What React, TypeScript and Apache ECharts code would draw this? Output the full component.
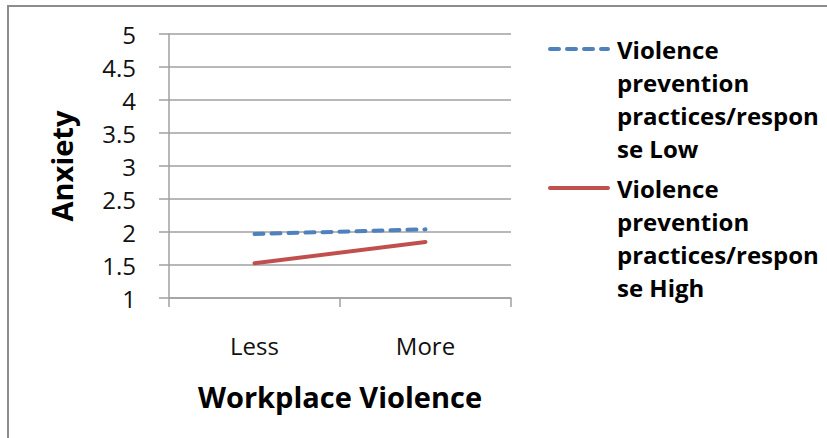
import React, { useEffect, useRef } from "react";
import * as echarts from "echarts";

const categories = ["Less", "More"];
const seriesNames = [
  "Violence\nprevention\npractices/respon\nse Low",
  "Violence\nprevention\npractices/respon\nse High",
];
const lowValues = [1.97, 2.04];
const highValues = [1.525, 1.85];
const yMin = 1;
const yMax = 5;
const yInterval = 0.5;
const xTitle = "Workplace Violence";
const yTitle = "Anxiety";

const FONT = "Open Sans";
const BLUE = "#4F81BD";
const RED = "#C0504D";
const GRID = "#a0a0a0";

export default function App() {
  const ref = useRef<HTMLDivElement>(null);
  useEffect(() => {
    if (!ref.current) return;
    const chart = echarts.init(ref.current, null, { renderer: "svg" });
    const legendItems = [
      { name: seriesNames[0], color: BLUE, dash: [9, 8], y: 49 },
      { name: seriesNames[1], color: RED, dash: null, y: 188 },
    ];
    const graphic: any[] = [
      {
        type: "polyline",
        shape: { points: [[8, 438], [8, 6], [827, 6]] },
        style: { stroke: "#8c8c8c", lineWidth: 2, fill: "none" },
        silent: true,
      },
    ];
    legendItems.forEach((it) => {
      graphic.push({
        type: "line",
        shape: { x1: 550, y1: it.y, x2: 608, y2: it.y },
        style: {
          stroke: it.color,
          lineWidth: 4,
          lineDash: it.dash || undefined,
          lineCap: "round",
        },
      });
      graphic.push({
        type: "text",
        x: 617,
        y: it.y - 16.5,
        style: {
          text: it.name,
          fontFamily: FONT,
          fontSize: 24,
          fontWeight: "bold",
          lineHeight: 33,
          fill: "#000",
          verticalAlign: "top",
          align: "left",
        },
      });
    });
    chart.setOption({
      animation: false,
      grid: { left: 169, right: 316, top: 34, bottom: 140, containLabel: false },
      xAxis: {
        type: "category",
        data: categories,
        boundaryGap: true,
        name: xTitle,
        nameLocation: "middle",
        nameGap: 84,
        nameTextStyle: { fontFamily: FONT, fontSize: 29, fontWeight: "bold", color: "#000" },
        axisLine: { show: true, lineStyle: { color: GRID, width: 1.5 } },
        axisTick: { show: true, length: 9, interval: 0, lineStyle: { color: GRID, width: 1.5 } },
        axisLabel: { margin: 35, fontFamily: FONT, fontSize: 24, color: "#111" },
        splitLine: { show: false },
      },
      yAxis: {
        type: "value",
        min: yMin,
        max: yMax,
        interval: yInterval,
        name: yTitle,
        nameLocation: "middle",
        nameGap: 93,
        nameTextStyle: { fontFamily: FONT, fontSize: 29, fontWeight: "bold", color: "#000" },
        axisLine: { show: true, lineStyle: { color: GRID, width: 1.5 } },
        axisTick: { show: true, length: 10, lineStyle: { color: GRID, width: 1.5 } },
        axisLabel: { margin: 33, fontFamily: FONT, fontSize: 24, color: "#111" },
        splitLine: { show: true, lineStyle: { color: GRID, width: 1.5 } },
      },
      series: [
        {
          name: seriesNames[0],
          type: "line",
          data: lowValues,
          symbol: "none",
          lineStyle: { color: BLUE, width: 4, type: [9, 8], cap: "round" },
        },
        {
          name: seriesNames[1],
          type: "line",
          data: highValues,
          symbol: "none",
          lineStyle: { color: RED, width: 4, cap: "round" },
        },
      ],
      graphic,
    });
    return () => chart.dispose();
  }, []);
  return (
    <div
      ref={ref}
      style={{ position: "fixed", left: 0, top: 0, width: 827, height: 438, background: "#fff" }}
    />
  );
}
